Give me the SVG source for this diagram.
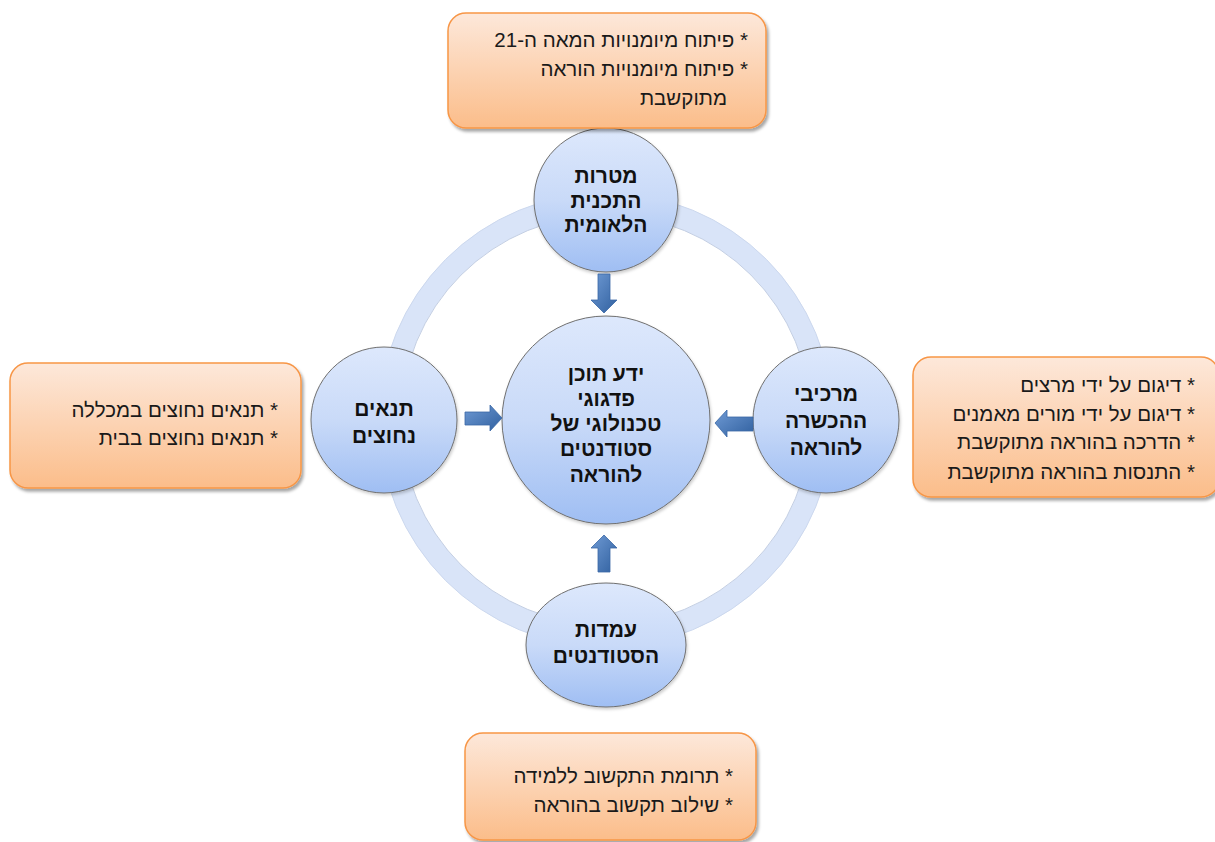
<svg xmlns="http://www.w3.org/2000/svg" width="1215" height="842" viewBox="0 0 1215 842">
<style>
.box{fill:url(#gOr);stroke:#f79646;stroke-width:1.5;filter:url(#sh)}
.circ{fill:url(#gBl);stroke:#6f6f6f;stroke-width:1;filter:url(#sh2)}
.arr{fill:url(#gAr);stroke:#3b68a6;stroke-width:0.8}
.bt{font-family:"Liberation Sans","DejaVu Sans",Arial,sans-serif;font-size:20.5px;fill:#1a1a1a}
.ct{font-family:"Liberation Sans","DejaVu Sans",Arial,sans-serif;font-size:21px;font-weight:bold;fill:#111;text-anchor:middle}
</style>
<defs>
<linearGradient id="gOr" x1="0" y1="0" x2="0" y2="1">
<stop offset="0" stop-color="#fde8da"/>
<stop offset="1" stop-color="#fbbd8a"/>
</linearGradient>
<linearGradient id="gBl" x1="0" y1="0" x2="0" y2="1">
<stop offset="0" stop-color="#dde8fc"/>
<stop offset="0.5" stop-color="#c9daf8"/>
<stop offset="1" stop-color="#9fbef3"/>
</linearGradient>
<linearGradient id="gAr" x1="0" y1="0" x2="1" y2="1">
<stop offset="0" stop-color="#6f9ad4"/>
<stop offset="1" stop-color="#30609f"/>
</linearGradient>
<filter id="sh" x="-10%" y="-10%" width="120%" height="130%">
<feDropShadow dx="2" dy="3" stdDeviation="1.5" flood-color="#000" flood-opacity="0.35"/>
</filter>
<filter id="sh2" x="-10%" y="-10%" width="120%" height="130%">
<feDropShadow dx="1" dy="2" stdDeviation="1.5" flood-color="#000" flood-opacity="0.2"/>
</filter>
</defs>
<rect width="1215" height="842" fill="#fff"/>

<g id="ring">
<circle cx="606" cy="420" r="216" fill="none" stroke="#d9e4f8" stroke-width="22"/>
<circle cx="606" cy="420" r="227" fill="none" stroke="#ccd8ee" stroke-width="1"/>
<circle cx="606" cy="420" r="205" fill="none" stroke="#c4cfe3" stroke-width="1"/>
</g>

<g id="node-center">
<circle class="circ" cx="606" cy="420" r="104"/>
<text class="ct" direction="rtl" x="606" y="381">ידע תוכן</text>
<text class="ct" direction="rtl" x="606" y="406">פדגוגי</text>
<text class="ct" direction="rtl" x="606" y="431">טכנולוגי של</text>
<text class="ct" direction="rtl" x="606" y="456">סטודנטים</text>
<text class="ct" direction="rtl" x="606" y="482">להוראה</text>
</g>

<g id="node-top">
<circle class="circ" cx="606" cy="200" r="72"/>
<text class="ct" direction="rtl" x="606" y="183">מטרות</text>
<text class="ct" direction="rtl" x="606" y="208">התכנית</text>
<text class="ct" direction="rtl" x="606" y="232">הלאומית</text>
</g>

<g id="node-left">
<circle class="circ" cx="384" cy="420" r="73"/>
<text class="ct" direction="rtl" x="384" y="416">תנאים</text>
<text class="ct" direction="rtl" x="384" y="443">נחוצים</text>
</g>

<g id="node-right">
<circle class="circ" cx="826" cy="420" r="73"/>
<text class="ct" direction="rtl" x="826" y="401">מרכיבי</text>
<text class="ct" direction="rtl" x="826" y="428">ההכשרה</text>
<text class="ct" direction="rtl" x="826" y="455">להוראה</text>
</g>

<g id="node-bottom">
<ellipse class="circ" cx="606" cy="645" rx="80" ry="62"/>
<text class="ct" direction="rtl" x="606" y="637">עמדות</text>
<text class="ct" direction="rtl" x="606" y="663">הסטודנטים</text>
</g>

<g id="connectors">
<path class="arr" d="M598,274 H610 V300 H617 L604,313 L591,300 H598 Z"/>
<path class="arr" d="M598,572 H610 V548 H617 L604,535 L591,548 H598 Z"/>
<path class="arr" d="M465,412 H490 V405 L502,418 L490,431 V425 H465 Z"/>
<path class="arr" d="M753,417 H727 V410 L715,423 L727,437 V431 H753 Z"/>
</g>

<g id="box-top">
<rect class="box" x="448" y="13" width="318" height="115" rx="18"/>
<text class="bt" direction="rtl" x="748" y="47">* פיתוח מיומנויות המאה ה-21</text>
<text class="bt" direction="rtl" x="748" y="76">* פיתוח מיומנויות הוראה</text>
<text class="bt" direction="rtl" x="727" y="105">מתוקשבת</text>
</g>

<g id="box-left">
<rect class="box" x="10" y="363" width="291" height="125" rx="18"/>
<text class="bt" direction="rtl" x="278" y="417">* תנאים נחוצים במכללה</text>
<text class="bt" direction="rtl" x="278" y="445">* תנאים נחוצים בבית</text>
</g>

<g id="box-right">
<rect class="box" x="913" y="357" width="306" height="140" rx="18"/>
<text class="bt" direction="rtl" x="1195" y="392">* דיגום על ידי מרצים</text>
<text class="bt" direction="rtl" x="1195" y="421">* דיגום על ידי מורים מאמנים</text>
<text class="bt" direction="rtl" x="1195" y="449">* הדרכה בהוראה מתוקשבת</text>
<text class="bt" direction="rtl" x="1195" y="479">* התנסות בהוראה מתוקשבת</text>
</g>

<g id="box-bottom">
<rect class="box" x="465" y="733" width="291" height="107" rx="18"/>
<text class="bt" direction="rtl" x="733" y="783">* תרומת התקשוב ללמידה</text>
<text class="bt" direction="rtl" x="733" y="812">* שילוב תקשוב בהוראה</text>
</g>
</svg>
